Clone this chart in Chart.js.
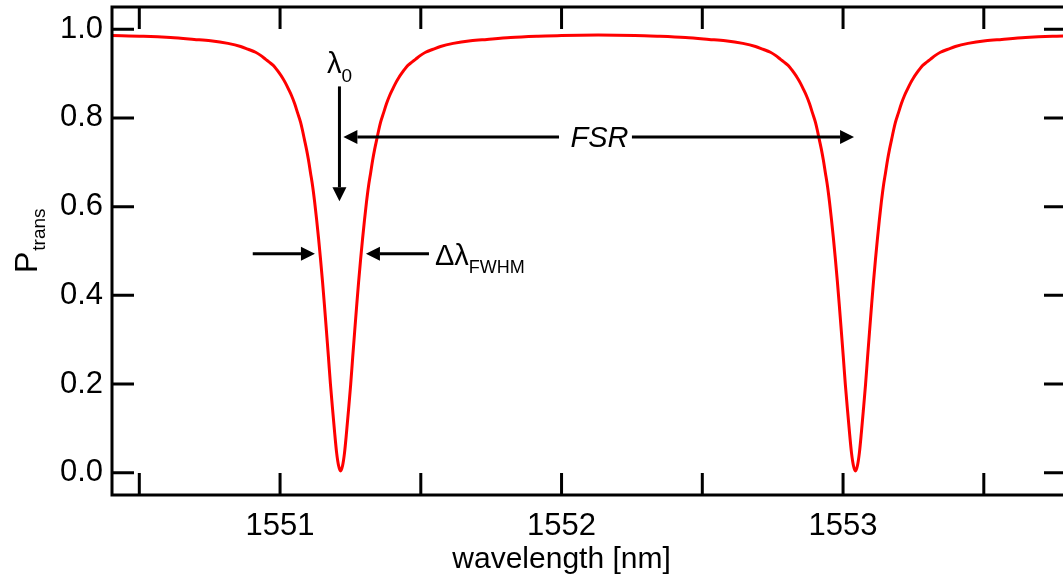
<!DOCTYPE html>
<html>
<head>
<meta charset="utf-8">
<script src="https://cdn.jsdelivr.net/npm/chart.js@4.4.1/dist/chart.umd.min.js"></script>
<style>
  html, body { margin: 0; padding: 0; background: #fff; overflow: hidden; }
  #wrap { position: relative; width: 1070px; height: 576px; }
</style>
</head>
<body>
<div id="wrap"><canvas id="ring"></canvas></div>
<script>
// wavelength [nm] and transmitted power
const wavelength = [
  1550.400, 1550.515, 1550.611, 1550.695, 1550.753, 1550.815, 1550.860, 1550.885, 1550.913, 1550.931,
  1550.949, 1550.965, 1550.981, 1550.995, 1551.009, 1551.019, 1551.030, 1551.041, 1551.052, 1551.062,
  1551.073, 1551.080, 1551.087, 1551.094, 1551.101, 1551.108, 1551.116, 1551.123, 1551.130, 1551.137,
  1551.144, 1551.151, 1551.158, 1551.165, 1551.172, 1551.179, 1551.187, 1551.194, 1551.201, 1551.208,
  1551.215,
  1551.222, 1551.229, 1551.236, 1551.243, 1551.251, 1551.258, 1551.265, 1551.272, 1551.279, 1551.286,
  1551.293, 1551.300, 1551.307, 1551.314, 1551.322, 1551.329, 1551.336, 1551.343, 1551.350, 1551.357,
  1551.368, 1551.378, 1551.389, 1551.400, 1551.411, 1551.421, 1551.435, 1551.449, 1551.465, 1551.481,
  1551.499, 1551.517, 1551.545, 1551.570, 1551.615, 1551.677, 1551.735, 1551.819, 1551.915,
  1552.000, 1552.130, 1552.260,
  1552.344, 1552.440, 1552.524, 1552.582, 1552.644, 1552.689, 1552.714, 1552.742, 1552.760, 1552.778,
  1552.794, 1552.810, 1552.824, 1552.838, 1552.848, 1552.859, 1552.870, 1552.881, 1552.891, 1552.902,
  1552.909, 1552.916, 1552.923, 1552.930, 1552.937, 1552.945, 1552.952, 1552.959, 1552.966, 1552.973,
  1552.980, 1552.987, 1552.994, 1553.001, 1553.008, 1553.016, 1553.023, 1553.030, 1553.037,
  1553.044,
  1553.051, 1553.058, 1553.065, 1553.072, 1553.080, 1553.087, 1553.094, 1553.101, 1553.108, 1553.115,
  1553.122, 1553.129, 1553.136, 1553.143, 1553.151, 1553.158, 1553.165, 1553.172, 1553.179, 1553.186,
  1553.197, 1553.207, 1553.218, 1553.229, 1553.240, 1553.250, 1553.264, 1553.278, 1553.294, 1553.310,
  1553.328, 1553.346, 1553.374, 1553.399, 1553.444, 1553.506, 1553.564, 1553.648, 1553.744, 1553.800
];
const transmission = [
  0.986, 0.984, 0.981, 0.977, 0.974, 0.968, 0.961, 0.955, 0.948, 0.941,
  0.932, 0.924, 0.915, 0.903, 0.890, 0.879, 0.865, 0.850, 0.832, 0.812,
  0.790, 0.771, 0.750, 0.729, 0.705, 0.677, 0.645, 0.610, 0.570, 0.527,
  0.480, 0.430, 0.375, 0.318, 0.260, 0.200, 0.140, 0.090, 0.045, 0.016,
  0.004,
  0.016, 0.045, 0.090, 0.140, 0.200, 0.260, 0.318, 0.375, 0.430, 0.480,
  0.527, 0.570, 0.610, 0.645, 0.677, 0.705, 0.729, 0.750, 0.771, 0.790,
  0.812, 0.832, 0.850, 0.865, 0.879, 0.890, 0.903, 0.915, 0.924, 0.932,
  0.941, 0.948, 0.955, 0.961, 0.968, 0.974, 0.977, 0.981, 0.984,
  0.986, 0.987, 0.986,
  0.984, 0.981, 0.977, 0.974, 0.968, 0.961, 0.955, 0.948, 0.941, 0.932,
  0.924, 0.915, 0.903, 0.890, 0.879, 0.865, 0.850, 0.832, 0.812, 0.790,
  0.771, 0.750, 0.729, 0.705, 0.677, 0.645, 0.610, 0.570, 0.527, 0.480,
  0.430, 0.375, 0.318, 0.260, 0.200, 0.140, 0.090, 0.045, 0.016,
  0.004,
  0.016, 0.045, 0.090, 0.140, 0.200, 0.260, 0.318, 0.375, 0.430, 0.480,
  0.527, 0.570, 0.610, 0.645, 0.677, 0.705, 0.729, 0.750, 0.771, 0.790,
  0.812, 0.832, 0.850, 0.865, 0.879, 0.890, 0.903, 0.915, 0.924, 0.932,
  0.941, 0.948, 0.955, 0.961, 0.968, 0.974, 0.977, 0.981, 0.984, 0.985
];
const xTickLabels = ['1551', '1552', '1553'];
const yTickLabels = ['0.0', '0.2', '0.4', '0.6', '0.8', '1.0'];
const xRange = [1550.403, 1553.792];
const yRange = [-0.05, 1.05];

// annotation anchors, in data units
const lambda0 = 1551.211;
const lambda0Arrow = [0.871, 0.612];
const lambdaLabel = [1551.167, 0.901];
const fsrY = 0.757;
const fsrEnds = [1551.225, 1553.039];
const fsrGap = [1551.991, 1552.250];
const fwhmY = 0.494;
const fwhmLeft = [1550.903, 1551.124];
const fwhmRight = [1551.529, 1551.305];
const fwhmLabel = [1551.550, 0.4695];

const FONT = '"Liberation Sans", Arial, Helvetica, sans-serif';

function arrow(ctx, x1, y1, x2, y2) {
  const len = 14, half = 7;
  const a = Math.atan2(y2 - y1, x2 - x1);
  const bx = x2 - len * Math.cos(a), by = y2 - len * Math.sin(a);
  ctx.beginPath();
  ctx.moveTo(x1, y1);
  ctx.lineTo(bx, by);
  ctx.stroke();
  ctx.beginPath();
  ctx.moveTo(x2, y2);
  ctx.lineTo(bx + half * Math.sin(a), by - half * Math.cos(a));
  ctx.lineTo(bx - half * Math.sin(a), by + half * Math.cos(a));
  ctx.closePath();
  ctx.fill();
}

// box with inward ticks on all four sides, axis titles and the labels
const decorations = {
  id: 'decorations',
  afterDraw(chart) {
    const {ctx, chartArea: a, scales: {x, y}} = chart;
    ctx.save();
    ctx.strokeStyle = '#000';
    ctx.fillStyle = '#000';
    ctx.lineWidth = 3;
    ctx.strokeRect(a.left, a.top, a.right - a.left, a.bottom - a.top);
    ctx.beginPath();
    x.ticks.forEach(t => {
      const px = x.getPixelForValue(t.value);
      ctx.moveTo(px, a.bottom); ctx.lineTo(px, a.bottom - 22);
      ctx.moveTo(px, a.top); ctx.lineTo(px, a.top + 22);
    });
    y.ticks.forEach(t => {
      const py = y.getPixelForValue(t.value);
      ctx.moveTo(a.left, py); ctx.lineTo(a.left + 22, py);
      ctx.moveTo(a.right, py); ctx.lineTo(a.right - 22, py);
    });
    ctx.stroke();

    // x title
    ctx.font = '30px ' + FONT;
    ctx.textAlign = 'center';
    ctx.textBaseline = 'alphabetic';
    ctx.fillText('wavelength [nm]', x.getPixelForValue(1552), a.bottom + 73);

    // y title P_trans
    ctx.save();
    ctx.translate(37, 273);
    ctx.rotate(-Math.PI / 2);
    ctx.textAlign = 'left';
    ctx.font = '32px ' + FONT;
    ctx.fillText('P', 0, 0);
    const pw = ctx.measureText('P').width;
    ctx.font = '19px ' + FONT;
    ctx.fillText('trans', pw + 1, 8);
    ctx.restore();

    // lambda_0 arrow and label
    const lx = x.getPixelForValue(lambda0);
    arrow(ctx, lx, y.getPixelForValue(lambda0Arrow[0]), lx, y.getPixelForValue(lambda0Arrow[1]));
    ctx.textAlign = 'left';
    ctx.font = '29px ' + FONT;
    let tx = x.getPixelForValue(lambdaLabel[0]);
    let ty = y.getPixelForValue(lambdaLabel[1]);
    ctx.fillText('λ', tx, ty);
    let w = ctx.measureText('λ').width;
    ctx.font = '19px ' + FONT;
    ctx.fillText('0', tx + w, ty + 9);

    // FSR arrow with its label in a gap
    const fy = y.getPixelForValue(fsrY);
    arrow(ctx, x.getPixelForValue(fsrGap[0]), fy, x.getPixelForValue(fsrEnds[0]), fy);
    arrow(ctx, x.getPixelForValue(fsrGap[1]), fy, x.getPixelForValue(fsrEnds[1]), fy);
    ctx.font = 'italic 29px ' + FONT;
    ctx.textAlign = 'center';
    ctx.fillText('FSR', (x.getPixelForValue(fsrGap[0]) + x.getPixelForValue(fsrGap[1])) / 2 + 4, fy + 10);

    // FWHM arrows
    const wy = y.getPixelForValue(fwhmY);
    arrow(ctx, x.getPixelForValue(fwhmLeft[0]), wy, x.getPixelForValue(fwhmLeft[1]), wy);
    arrow(ctx, x.getPixelForValue(fwhmRight[0]), wy, x.getPixelForValue(fwhmRight[1]), wy);
    ctx.textAlign = 'left';
    ctx.font = '29px ' + FONT;
    tx = x.getPixelForValue(fwhmLabel[0]);
    ty = y.getPixelForValue(fwhmLabel[1]);
    ctx.fillText('Δλ', tx, ty);
    w = ctx.measureText('Δλ').width;
    ctx.font = '18px ' + FONT;
    ctx.fillText('FWHM', tx + w, ty + 8);
    ctx.restore();
  }
};

new Chart(document.getElementById('ring'), {
  type: 'line',
  data: {
    datasets: [{
      data: wavelength.map((w, i) => ({x: w, y: transmission[i]})),
      borderColor: '#ff0000',
      borderWidth: 3,
      pointRadius: 0,
      fill: false,
      cubicInterpolationMode: 'monotone'
    }]
  },
  options: {
    responsive: true,
    maintainAspectRatio: false,
    animation: false,
    events: [],
    layout: {padding: {left: 0, top: 7, right: 4, bottom: 0}},
    plugins: {legend: {display: false}, tooltip: {enabled: false}},
    scales: {
      x: {
        type: 'linear',
        min: xRange[0],
        max: xRange[1],
        grid: {display: false, drawTicks: false},
        border: {display: false},
        afterFit: s => { s.height = 81; s.paddingLeft = 0; s.paddingRight = 0; },
        ticks: {
          stepSize: 0.5,
          includeBounds: false,
          autoSkip: false,
          maxRotation: 0,
          padding: 13,
          color: '#000',
          font: {family: FONT, size: 31},
          callback: v => xTickLabels.includes(String(v)) ? String(v) : ''
        }
      },
      y: {
        min: yRange[0],
        max: yRange[1],
        grid: {display: false, drawTicks: false},
        border: {display: false},
        afterFit: s => { s.width = 112; s.paddingTop = 0; s.paddingBottom = 0; },
        ticks: {
          stepSize: 0.2,
          includeBounds: false,
          padding: 9,
          color: '#000',
          font: {family: FONT, size: 31},
          callback: v => yTickLabels.find(l => Math.abs(parseFloat(l) - v) < 1e-6) || ''
        }
      }
    }
  },
  plugins: [decorations]
});
</script>
</body>
</html>
